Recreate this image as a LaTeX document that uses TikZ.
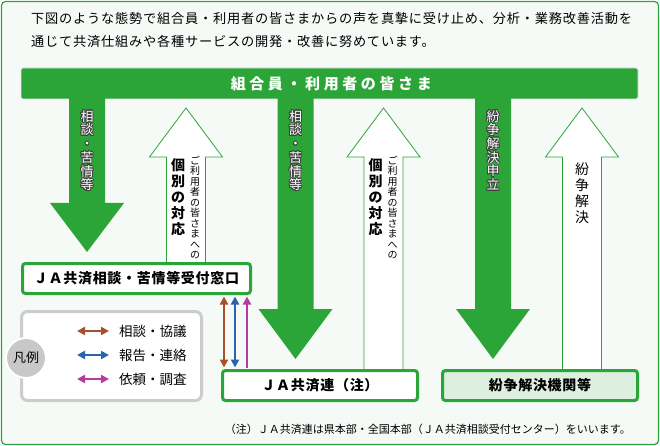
\documentclass[tikz,border=0pt]{standalone}
\usepackage{fontspec}
\setmainfont{Noto Sans CJK JP}
\newfontfamily\headfont{Noto Sans CJK JP}[LetterSpace=24]
\newfontfamily\boxfont{Noto Sans CJK JP}[LetterSpace=5]
\newfontfamily\leadfont{Noto Sans CJK JP}[LetterSpace=6]
\usepackage{contour}
\contourlength{0.8pt}
\usetikzlibrary{arrows.meta}

\definecolor{jagreen}{RGB}{44,165,56}
\definecolor{jabg}{RGB}{245,250,246}
\definecolor{jalight}{RGB}{221,240,224}
\definecolor{consultc}{RGB}{168,80,43}
\definecolor{reportc}{RGB}{42,100,173}
\definecolor{requestc}{RGB}{184,57,159}
\definecolor{legendgray}{RGB}{204,204,204}
\definecolor{circlegray}{RGB}{200,200,200}

% white text with a thin dark outline
\newcommand{\oc}[1]{\contour{black!75}{#1}}

\begin{document}
\begin{tikzpicture}[x=1pt, y=-1pt,
  frame/.style={draw=jagreen, line width=1.2pt, fill=jabg, rounded corners=4pt},
  header/.style={fill=jagreen, draw=black!10, line width=0.8pt, rounded corners=2pt,
    minimum width=617pt, minimum height=31pt, inner sep=0pt, text=white,
    font=\headfont\bfseries\fontsize{15}{18}\selectfont},
  claimarrow/.style={fill=jagreen},
  replyarrow/.style={draw=jagreen, line width=0.8pt, fill=white},
  deskbox/.style={draw=jagreen, line width=3pt, fill=white, rounded corners=3pt,
    minimum height=30pt, inner sep=0pt, font=\boxfont\bfseries\fontsize{14}{16}\selectfont},
  legendbox/.style={draw=legendgray, line width=3pt, fill=white, rounded corners=6pt},
  legendtag/.style={circle, fill=circlegray, draw=white, line width=2pt, minimum size=40pt,
    inner sep=0pt, font=\fontsize{13}{15}\selectfont},
  flowline/.style={line width=2.5pt},
  vlabel/.style={align=center, text=white, inner sep=0pt, font=\fontsize{13}{13.7}\selectfont},
  replybig/.style={align=center, inner sep=0pt, font=\bfseries\fontsize{14}{16}\selectfont},
  replysmall/.style={align=center, inner sep=0pt, font=\fontsize{10}{10.5}\selectfont},
  leadtext/.style={inner sep=0pt, font=\leadfont\fontsize{13.2}{16}\selectfont},
  legendtext/.style={inner sep=0pt, font=\fontsize{13.5}{16}\selectfont},
  notetext/.style={inner sep=0pt, font=\fontsize{11}{13}\selectfont}
]
\useasboundingbox (0,0) rectangle (660,446);

% Frame and lead text
\draw[frame] (1.5,1.5) rectangle (658.5,444.5);
\node[leadtext, anchor=west] (lead1) at (31,18) {下図のような態勢で組合員・利用者の皆さまからの声を真摯に受け止め、分析・業務改善活動を};
\node[leadtext, anchor=west] (lead2) at (31,41) {通じて共済仕組みや各種サービスの開発・改善に努めています。};

% Members bar
\node[header] (members) at (329.5,83.5) {\hspace*{3.6pt}組合員・利用者の皆さま};

% --- Reply arrows (white, pointing up) ---
\foreach \cx/\by in {186/264, 383.5/371, 582/371} {
  \draw[replyarrow] (\cx-19.5,\by) -- (\cx-19.5,157) -- (\cx-36.5,157) -- (\cx,108)
    -- (\cx+36.5,157) -- (\cx+19.5,157) -- (\cx+19.5,\by);
}

% --- Claim arrows (green, pointing down) ---
\foreach \cx/\hy/\ty in {87/203/252, 295.5/309/359, 493/309/359} {
  \fill[claimarrow] (\cx-18,98) -- (\cx+18,98) -- (\cx+18,\hy) -- (\cx+37,\hy)
    -- (\cx,\ty) -- (\cx-37,\hy) -- (\cx-18,\hy) -- cycle;
}

% --- Desks ---
\node[deskbox, minimum width=228pt] (desk1) at (136.5,278.5) {ＪＡ共済相談・苦情等受付窓口};
\node[deskbox, minimum width=195pt] (desk2) at (320,385.5) {ＪＡ共済連（注）};
\node[deskbox, minimum width=195pt, fill=jalight] (desk3) at (540,385.5) {紛争解決機関等};

% --- Links between the desks ---
\foreach \k/\x in {1/224, 2/235, 3/247} {
  \coordinate (v\k) at (\x,0);
}
\draw[flowline, draw=consultc, {Triangle[length=8pt,width=8pt]}-{Triangle[length=8pt,width=8pt]},
  shorten <=1.5pt, shorten >=1.5pt] (desk2.north -| v1) -- (desk1.south -| v1);
\draw[flowline, draw=reportc, {Triangle[length=8pt,width=8pt]}-{Triangle[length=8pt,width=8pt]},
  shorten <=1.5pt, shorten >=1.5pt] (desk2.north -| v2) -- (desk1.south -| v2);
\draw[flowline, draw=requestc, -{Triangle[length=8pt,width=8pt]},
  shorten <=1.5pt, shorten >=1.5pt] (desk2.north -| v3) -- (desk1.south -| v3);

% --- Legend ---
\draw[legendbox] (21.5,311.5) rectangle (201.5,400.5);
\node[legendtag] (legend) at (26,358) {凡例};
\foreach \k/\c/\t/\y in {1/consultc/相談・協議/331, 2/reportc/報告・連絡/355, 3/requestc/依頼・調査/379} {
  \coordinate (ls\k) at (77,\y);
  \coordinate (le\k) at (109,\y);
  \draw[flowline, draw=\c, {Triangle[length=8pt,width=8pt]}-{Triangle[length=8pt,width=8pt]}] (ls\k) -- (le\k);
  \node[legendtext, anchor=west] (lt\k) at (119,\y) {\t};
}

% --- Arrow labels ---
\node[vlabel] (ask1) at (87,151) {\oc{相}\\\oc{談}\\\oc{・}\\\oc{苦}\\\oc{情}\\\oc{等}};
\node[vlabel] (ask2) at (295.5,151) {\oc{相}\\\oc{談}\\\oc{・}\\\oc{苦}\\\oc{情}\\\oc{等}};
\node[vlabel] (ask3) at (493,150.5) {\oc{紛}\\\oc{争}\\\oc{解}\\\oc{決}\\\oc{申}\\\oc{立}};

\foreach \k/\x in {1/186, 2/383.5} {
  \node[replybig] (resp\k) at (\x-8,197) {個\\別\\の\\対\\応};
  \node[replysmall] (to\k) at (\x+9,207.5) {ご\\利\\用\\者\\の\\皆\\さ\\ま\\へ\\の};
}
\node[replybig, font=\fontsize{14}{16}\selectfont] (settle) at (582,193.5) {紛\\争\\解\\決};

% --- Note ---
\node[notetext, anchor=east] (note) at (631,429) {（注）ＪＡ共済連は県本部・全国本部（ＪＡ共済相談受付センター）をいいます。};

\end{tikzpicture}
\end{document}
